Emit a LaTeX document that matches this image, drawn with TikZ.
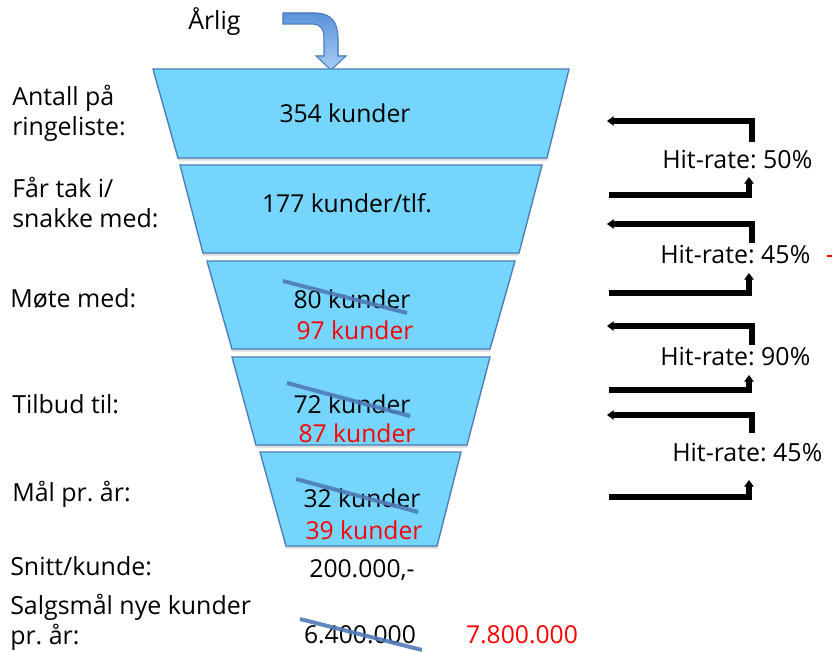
\documentclass[tikz,border=0pt]{standalone}
\usepackage{fontspec}
\setmainfont{Open Sans}
\usetikzlibrary{arrows.meta,shadows}
\frenchspacing

\definecolor{funnelfill}{HTML}{75D5FD}
\definecolor{funnelline}{HTML}{4A7EBB}
\definecolor{strikeblue}{HTML}{4F7BB8}
\definecolor{curvetop}{HTML}{5B93DB}
\definecolor{curvebot}{HTML}{A9CCF5}

\begin{document}
\begin{tikzpicture}[x=0.75pt,y=-0.75pt,
    funnel/.style={fill=funnelfill, draw=funnelline, line width=1pt,
      drop shadow={opacity=0.3, shadow xshift=0pt, shadow yshift=-2pt}},
    lbl/.style={anchor=west, align=left, inner sep=0pt,
      font=\fontsize{18.7}{22.5}\selectfont},
    cnt/.style={inner sep=0pt, font=\fontsize{18.5}{22.5}\selectfont},
    new/.style={cnt, text=red},
    strike/.style={strikeblue, line width=3pt, opacity=0.9},
    hit/.style={anchor=west, inner sep=0pt, font=\fontsize{18.7}{22.5}\selectfont},
    elbow/.style={line width=3.8pt, -{Triangle[length=5pt,width=7pt]}}]
    \useasboundingbox (0,0) rectangle (832,652);

    % yearly input arrow
    \filldraw[top color=curvetop, bottom color=curvebot, draw=funnelline, line width=0.8pt]
        (283,13) -- (315,13) .. controls (331,13) and (338,22) .. (338,38)
        -- (338,56) -- (346,56) -- (331,70) -- (316,56) -- (324,56) -- (324,38)
        .. controls (324,29) and (320,24) .. (313,24) -- (283,24) -- cycle;
    \node[lbl] (year) at (188,22) {Årlig};

    % funnel
    \draw[funnel] (153,69) -- (569,69) -- (547,158) -- (178,158) -- cycle;
    \draw[funnel] (180,165) -- (542,165) -- (519,253) -- (203,253) -- cycle;
    \draw[funnel] (207,261) -- (515,261) -- (490,349) -- (232,349) -- cycle;
    \draw[funnel] (232,357) -- (490,357) -- (467,445) -- (256,445) -- cycle;
    \draw[funnel] (260,452) -- (461,452) -- (437,546) -- (286,546) -- cycle;

    \node[cnt] (n354) at (345,113) {354 kunder};
    \node[cnt] (n177) at (347,203) {177 kunder/tlf.};
    \node[cnt] (n80) at (352,299) {80 kunder};
    \node[new] (n97) at (355,330) {97 kunder};
    \node[cnt] (n72) at (352,404) {72 kunder};
    \node[new] (n87) at (357,433) {87 kunder};
    \node[cnt] (n32) at (362,498) {32 kunder};
    \node[new] (n39) at (364,530) {39 kunder};
    \node[cnt] (avg) at (362,570) {200.000,-};
    \node[cnt] (old) at (360,635) {6.400.000};
    \node[new] (goal) at (522,635) {7.800.000};

    % crossed out numbers
    \draw[strike] (283,281) -- (407,313);
    \draw[strike] (287,383) -- (410,416);
    \draw[strike] (296,479) -- (418,512);
    \draw[strike] (300,619) -- (422,650);

    % left labels
    \node[lbl] (ring) at (12,113) {Antall på\\ringeliste:};
    \node[lbl] (reach) at (12,203) {Får tak i/\\snakke med:};
    \node[lbl] (meet) at (10,298) {Møte med:};
    \node[lbl] (offer) at (12,404) {Tilbud til:};
    \node[lbl] (target) at (12,494) {Mål pr. år:};
    \node[lbl] (snitt) at (10,566) {Snitt/kunde:};
    \node[lbl] (sales) at (10,622) {Salgsmål nye kunder\\pr. år:};

    % hit rates
    \node[hit] (hit1) at (662,160) {Hit-rate: 50\%};
    \node[hit] (hit2) at (660,255) {Hit-rate: 45\%};
    \node[hit] (hit3) at (660,357) {Hit-rate: 90\%};
    \node[hit] (hit4) at (672,453) {Hit-rate: 45\%};
    \draw[red, line width=1pt] (827,256) -- (832,256);

    \foreach \a/\b/\c/\d [count=\i] in {121/142/195/177,224/243/293/273,326/345/390/375,415/433/497/480}{
        \coordinate (back\i) at (752,\b);
        \coordinate (backend\i) at (607,\a);
        \draw[elbow] (back\i) |- (backend\i);
        \coordinate (fwd\i) at (609,\c);
        \coordinate (fwdend\i) at (749,\d);
        \draw[elbow] (fwd\i) -| (fwdend\i);
    }
\end{tikzpicture}
\end{document}
